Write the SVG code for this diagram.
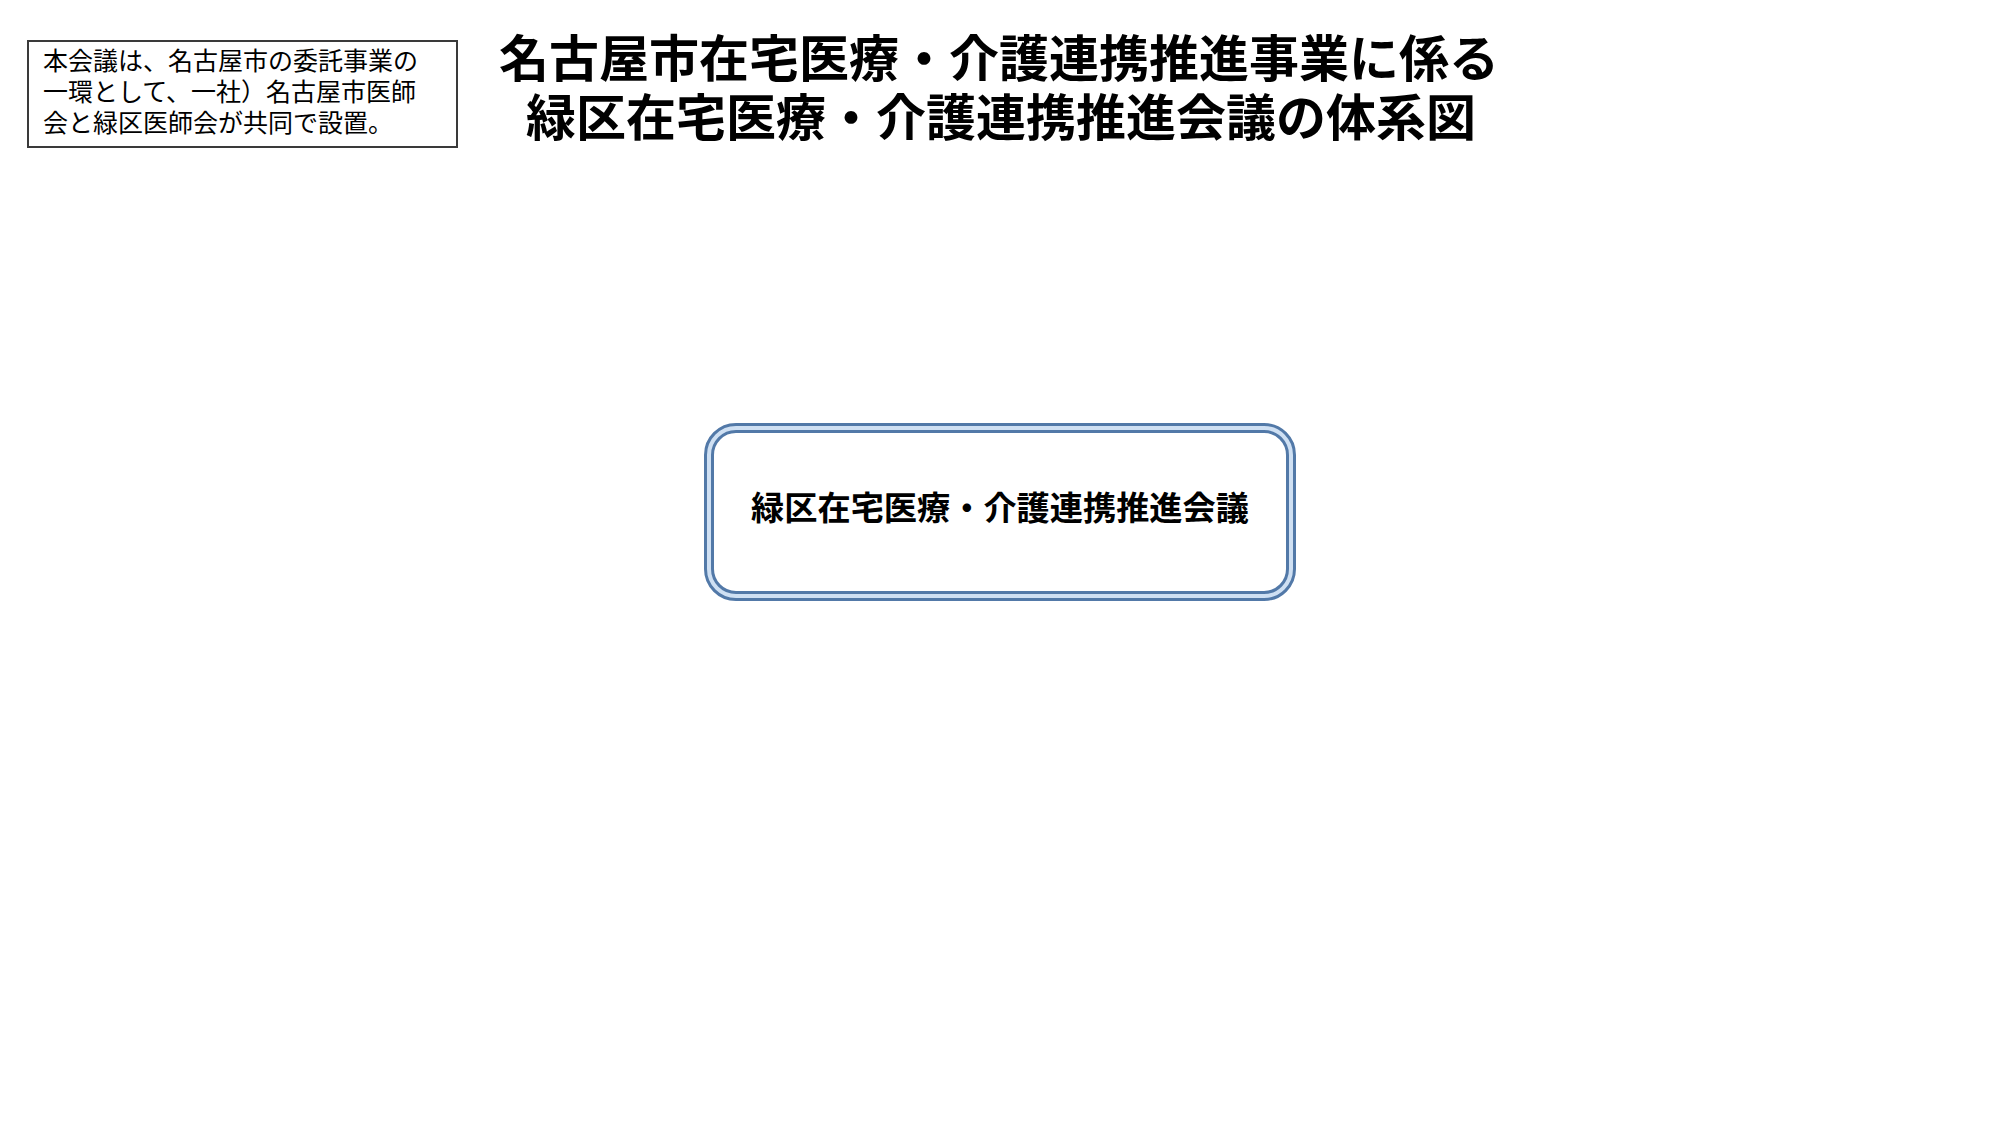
<svg xmlns="http://www.w3.org/2000/svg" width="2000" height="1125" viewBox="0 0 2000 1125">
  <style>
    .jp { font-family: "Noto Sans CJK JP", "Noto Sans", sans-serif; fill: #000; }
    .note { font-size: 25px; font-weight: 400; }
    .title { font-size: 50px; font-weight: 700; text-anchor: middle; }
    .label { font-size: 33.2px; font-weight: 700; text-anchor: middle; }
    .noteBox { fill: #fff; stroke: #3a3a3a; stroke-width: 2; }
    .nodeOuter { fill: #fff; stroke: #5279a8; stroke-width: 10; }
    .nodeInner { fill: none; stroke: #cfe0f3; stroke-width: 4; }
  </style>
  <rect x="0" y="0" width="2000" height="1125" fill="#fff"/>
  <g id="note">
    <rect class="noteBox" x="28" y="41" width="429" height="106"/>
    <text class="jp note" x="43" y="70">本会議は、名古屋市の委託事業の</text>
    <text class="jp note" x="43" y="101">一環として、一社）名古屋市医師</text>
    <text class="jp note" x="43" y="132">会と緑区医師会が共同で設置。</text>
  </g>
  <g id="title">
    <text class="jp title" x="999" y="77">名古屋市在宅医療・介護連携推進事業に係る</text>
    <text class="jp title" x="1001" y="136">緑区在宅医療・介護連携推進会議の体系図</text>
  </g>
  <g id="node-council">
    <rect class="nodeOuter" x="709" y="428" width="582" height="168" rx="27" ry="27"/>
    <rect class="nodeInner" x="709" y="428" width="582" height="168" rx="27" ry="27"/>
    <text class="jp label" x="1000" y="520">緑区在宅医療・介護連携推進会議</text>
  </g>
  <g id="connectors"></g>
</svg>
